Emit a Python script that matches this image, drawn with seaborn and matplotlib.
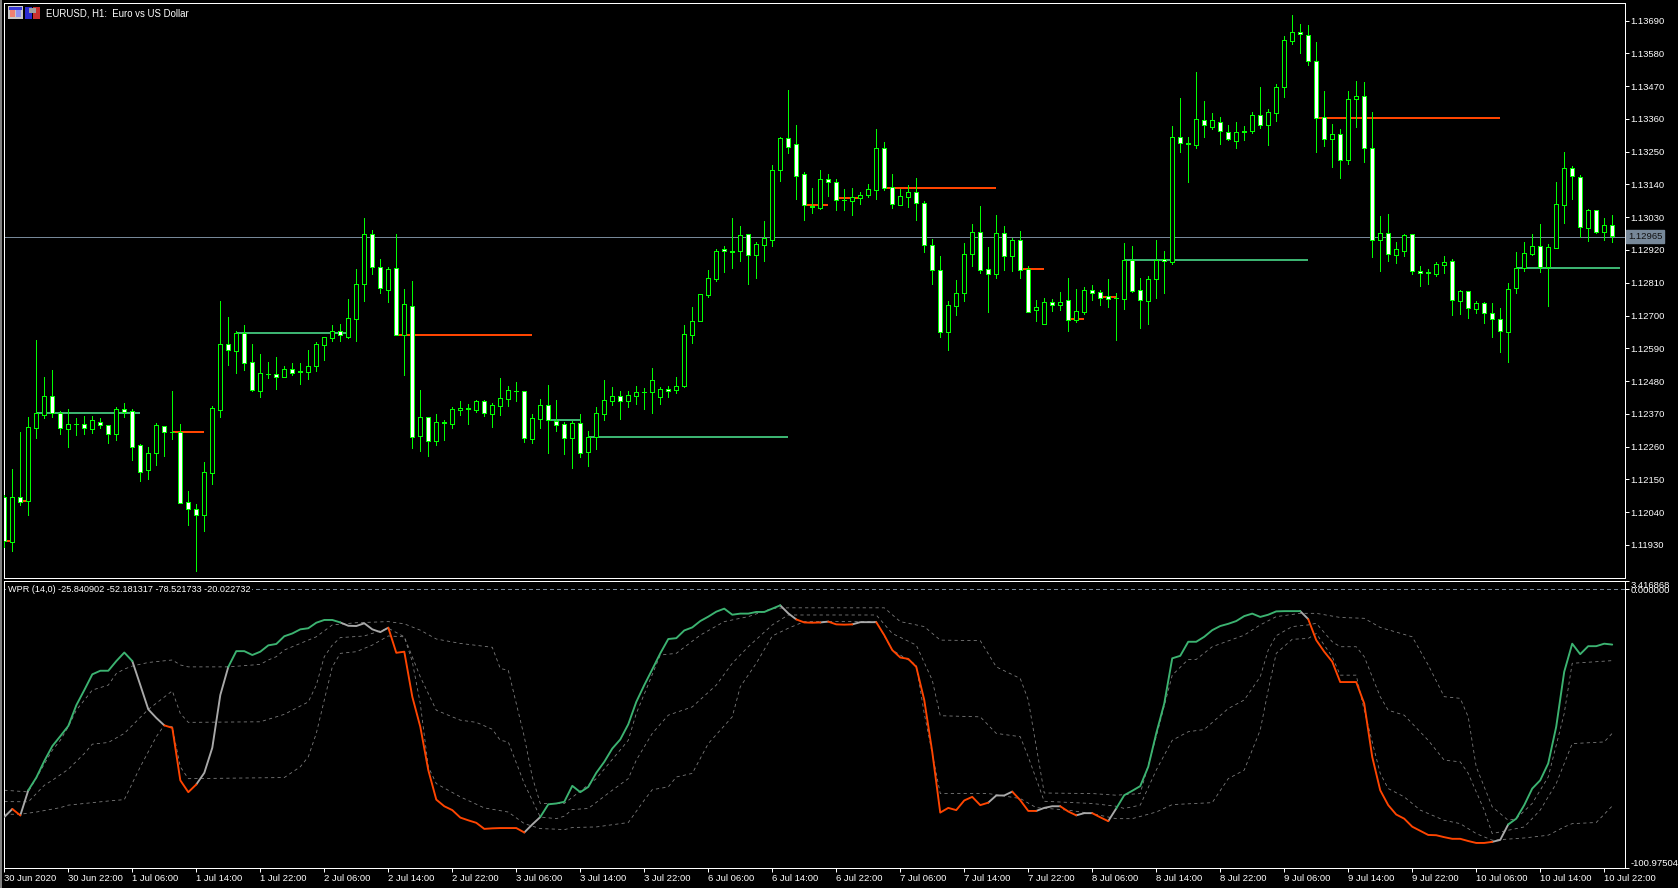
import numpy as np
import pandas as pd
import matplotlib
matplotlib.use("Agg")
import matplotlib.pyplot as plt
from matplotlib.patches import Rectangle
import seaborn as sns

# EURUSD H1 candles in points (1e-5)
open_pts = [
    112090, 111941, 112090, 112079, 112324, 112367, 112429, 112372, 112320, 112336,
    112337, 112320, 112344, 112334, 112304, 112385, 112379, 112265, 112180, 112237,
    112328, 112310, 112310, 112073, 112050, 112032, 112173, 112384, 112604, 112582,
    112641, 112543, 112448, 112505, 112505, 112495, 112520, 112513, 112512, 112529,
    112602, 112626, 112647, 112629, 112690, 112805, 112973, 112864, 112787, 112859,
    112635, 112733, 112294, 112361, 112280, 112344, 112337, 112382, 112388, 112384,
    112414, 112371, 112398, 112421, 112448, 112445, 112287, 112354, 112398, 112347,
    112335, 112290, 112338, 112243, 112291, 112370, 112414, 112429, 112414, 112431,
    112443, 112444, 112427, 112455, 112451, 112464, 112636, 112680, 112770, 112824,
    112923, 112915, 112915, 112973, 112902, 112938, 112955, 113190, 113295, 113275,
    113174, 113068, 113062, 113158, 113147, 113089, 113083, 113096, 113103, 113123,
    113262, 113131, 113072, 113099, 113114, 113077, 112936, 112852, 112644, 112733,
    112777, 112905, 112980, 112855, 112841, 112976, 112901, 112953, 112855, 112717,
    112673, 112745, 112737, 112751, 112686, 112713, 112785, 112778, 112764, 112760,
    112756, 112885, 112787, 112750, 112824, 112891, 112878, 113298, 113278, 113273,
    113357, 113334, 113351, 113315, 113287, 113315, 113321, 113372, 113338, 113381,
    113466, 113620, 113650, 113640, 113556, 113365, 113291, 113308, 113223, 113428,
    113436, 113261, 112952, 112976, 112902, 112918, 112972, 112851, 112845, 112840,
    112868, 112882, 112750, 112781, 112723, 112741, 112710, 112690, 112646, 112791,
    112858, 112906, 112935, 112862, 112928, 113072, 113194, 113164, 112995, 113053,
    112979, 113003,
]
high_pts = [
    112098, 112184, 112308, 112360, 112618, 112493, 112517, 112380, 112385, 112356,
    112363, 112363, 112355, 112334, 112393, 112407, 112385, 112269, 112258, 112340,
    112328, 112446, 112335, 112111, 112068, 112207, 112395, 112749, 112694, 112648,
    112669, 112604, 112571, 112543, 112561, 112531, 112540, 112540, 112583, 112610,
    112627, 112669, 112672, 112756, 112856, 113027, 112987, 112889, 112864, 112973,
    112788, 112816, 112450, 112361, 112369, 112350, 112392, 112413, 112402, 112417,
    112417, 112406, 112489, 112464, 112477, 112445, 112369, 112420, 112466, 112417,
    112342, 112347, 112369, 112312, 112393, 112483, 112460, 112447, 112447, 112463,
    112457, 112524, 112460, 112463, 112494, 112668, 112729, 112771, 112853, 112924,
    112933, 113027, 113001, 112973, 112947, 113018, 113206, 113300, 113457, 113340,
    113181, 113128, 113189, 113175, 113159, 113125, 113128, 113114, 113142, 113325,
    113283, 113175, 113124, 113137, 113162, 113085, 112957, 112900, 112749, 112820,
    112944, 113008, 113068, 112930, 113038, 113001, 112961, 112984, 112867, 112752,
    112759, 112756, 112779, 112826, 112789, 112796, 112803, 112786, 112823, 112775,
    112943, 112935, 112825, 112834, 112953, 112916, 113336, 113430, 113298, 113517,
    113420, 113380, 113366, 113338, 113349, 113336, 113383, 113467, 113393, 113477,
    113638, 113709, 113678, 113675, 113618, 113454, 113342, 113326, 113454, 113487,
    113484, 113383, 113034, 113041, 112947, 112973, 112972, 112865, 112855, 112879,
    112900, 112890, 112785, 112781, 112749, 112745, 112742, 112725, 112808, 112912,
    112947, 112973, 113006, 112939, 113148, 113249, 113202, 113172, 113057, 113054,
    113027, 113037,
]
low_pts = [
    111924, 111908, 112064, 112031, 112288, 112356, 112361, 112303, 112259, 112298,
    112303, 112306, 112323, 112272, 112282, 112360, 112215, 112145, 112152, 112199,
    112229, 112286, 112072, 111997, 111843, 111977, 112135, 112360, 112534, 112507,
    112517, 112447, 112427, 112491, 112454, 112495, 112501, 112470, 112487, 112514,
    112551, 112615, 112615, 112625, 112615, 112749, 112840, 112777, 112747, 112635,
    112501, 112257, 112246, 112230, 112266, 112282, 112323, 112366, 112336, 112376,
    112363, 112326, 112366, 112397, 112413, 112276, 112272, 112323, 112239, 112314,
    112235, 112188, 112225, 112195, 112252, 112349, 112400, 112353, 112393, 112403,
    112386, 112373, 112403, 112426, 112440, 112460, 112608, 112680, 112763, 112816,
    112846, 112860, 112883, 112806, 112826, 112883, 112934, 113150, 113246, 113092,
    113021, 113045, 113058, 113102, 113055, 113055, 113038, 113075, 113098, 113092,
    113123, 113061, 113072, 113065, 113021, 112914, 112806, 112628, 112585, 112702,
    112749, 112867, 112843, 112712, 112826, 112853, 112850, 112826, 112713, 112682,
    112673, 112716, 112719, 112648, 112679, 112705, 112752, 112736, 112729, 112618,
    112722, 112780, 112659, 112671, 112759, 112775, 112872, 113249, 113149, 113263,
    113299, 113327, 113276, 113289, 113263, 113289, 113313, 113330, 113272, 113353,
    113433, 113611, 113581, 113541, 113249, 113269, 113198, 113161, 113208, 113333,
    113215, 112896, 112849, 112883, 112876, 112900, 112839, 112799, 112806, 112832,
    112843, 112702, 112705, 112691, 112708, 112675, 112628, 112577, 112544, 112775,
    112850, 112903, 112846, 112732, 112928, 113010, 113090, 112963, 112950, 112978,
    112953, 112947,
]
close_pts = [
    111944, 112090, 112075, 112325, 112372, 112429, 112372, 112324, 112335, 112335,
    112322, 112348, 112331, 112304, 112385, 112376, 112260, 112176, 112238, 112332,
    112310, 112309, 112072, 112049, 112032, 112174, 112389, 112604, 112583, 112641,
    112539, 112451, 112506, 112504, 112495, 112520, 112508, 112511, 112530, 112604,
    112627, 112647, 112634, 112691, 112805, 112973, 112864, 112792, 112855, 112635,
    112738, 112291, 112361, 112280, 112342, 112338, 112385, 112389, 112386, 112412,
    112372, 112398, 112422, 112449, 112446, 112288, 112357, 112399, 112348, 112332,
    112290, 112338, 112239, 112291, 112372, 112415, 112429, 112414, 112432, 112442,
    112442, 112482, 112455, 112448, 112462, 112637, 112680, 112771, 112825, 112916,
    112916, 112913, 112970, 112902, 112939, 112959, 113188, 113295, 113265, 113170,
    113070, 113064, 113158, 113147, 113089, 113087, 113097, 113104, 113124, 113262,
    113127, 113074, 113100, 113114, 113079, 112936, 112852, 112644, 112735, 112775,
    112906, 112980, 112854, 112839, 112976, 112901, 112953, 112854, 112713, 112728,
    112745, 112737, 112745, 112686, 112714, 112785, 112777, 112760, 112757, 112758,
    112885, 112782, 112751, 112821, 112886, 112882, 113298, 113278, 113277, 113358,
    113338, 113355, 113321, 113291, 113315, 113321, 113372, 113338, 113382, 113466,
    113624, 113650, 113644, 113556, 113362, 113291, 113308, 113221, 113426, 113436,
    113261, 112952, 112976, 112905, 112922, 112969, 112851, 112844, 112844, 112872,
    112878, 112751, 112781, 112724, 112741, 112710, 112690, 112647, 112788, 112858,
    112909, 112935, 112862, 112929, 113073, 113194, 113167, 112996, 113053, 112982,
    113003, 112966,
]

# coloured level lines on the price window
level_start = [0, 2, 4, 21, 29, 49, 68, 73, 100, 104, 110, 127, 133, 137, 140, 164, 189]
level_end = [1, 3, 17, 25, 43, 66, 72, 98, 103, 107, 124, 130, 135, 139, 163, 187, 202]
level_pts = [111944, 112079, 112374, 112310, 112643, 112636, 112350, 112292, 113071,
             113093, 113128, 112857, 112689, 112762, 112886, 113364, 112859]
level_kind = ["dn", "dn", "up", "dn", "up", "dn", "up", "up", "dn",
              "dn", "dn", "dn", "dn", "dn", "up", "dn", "up"]

# WPR(14) main line, one value per bar
wpr_values = [
    -82.5, -79.6, -81.9, -72.8, -68.2, -62.2, -56.8, -53.2, -49.5, -42.0,
    -36.5, -30.8, -29.5, -29.5, -26.0, -22.9, -26.0, -34.7, -43.5, -46.6,
    -49.3, -50.2, -69.2, -73.5, -70.7, -66.5, -57.4, -38.3, -28.1, -22.4,
    -22.4, -23.8, -22.6, -20.3, -19.8, -17.0, -16.0, -14.5, -14.1, -12.1,
    -11.1, -11.1, -12.0, -13.2, -13.3, -12.3, -14.5, -15.5, -13.9, -23.0,
    -22.6, -38.9, -49.8, -65.5, -76.2, -78.6, -80.0, -82.7, -83.7, -84.6,
    -86.8, -86.6, -86.5, -86.5, -86.5, -88.1, -85.2, -82.5, -77.9, -77.6,
    -77.0, -71.2, -73.5, -71.6, -66.5, -62.5, -57.7, -54.4, -48.9, -40.8,
    -34.7, -29.0, -23.2, -18.0, -17.7, -14.9, -13.8, -11.5, -9.9, -8.1,
    -7.0, -9.2, -8.8, -8.8, -8.2, -8.2, -7.0, -5.8, -8.7, -10.9,
    -12.0, -12.1, -12.0, -11.7, -12.7, -12.8, -12.7, -11.9, -11.9, -11.9,
    -16.6, -22.0, -24.7, -25.2, -28.1, -40.1, -58.9, -80.9, -79.2, -80.0,
    -76.5, -75.2, -78.2, -77.3, -74.7, -74.7, -73.3, -76.4, -80.3, -80.3,
    -79.2, -78.6, -78.6, -80.5, -81.9, -81.1, -81.1, -82.6, -84.0, -79.4,
    -74.6, -73.0, -71.3, -64.3, -52.2, -41.4, -25.0, -24.1, -19.0, -19.0,
    -17.2, -14.8, -13.3, -12.5, -11.5, -9.7, -8.8, -10.0, -9.2, -8.0,
    -7.9, -7.9, -7.9, -10.8, -18.4, -22.6, -26.2, -33.6, -33.6, -33.6,
    -41.4, -60.7, -72.8, -78.2, -81.6, -83.1, -86.0, -87.5, -89.0, -89.1,
    -89.8, -90.4, -90.4, -91.2, -91.9, -91.9, -91.5, -90.8, -85.2, -83.1,
    -78.2, -72.2, -69.2, -63.1, -49.8, -29.9, -19.7, -23.5, -20.6, -20.6,
    -19.7, -20.02,
]
run_start = [0, 1, 2, 3, 16, 20, 24, 28, 42, 48, 65, 67, 97, 99, 102, 103, 106, 109,
             123, 126, 129, 132, 134, 136, 138, 139, 162, 163, 186, 188]
run_end = [1, 2, 3, 16, 20, 24, 28, 42, 48, 65, 67, 97, 99, 102, 103, 106, 109, 123,
           126, 129, 132, 134, 136, 138, 139, 162, 163, 186, 188, 201]
run_state = ["flat", "dn", "flat", "up", "flat", "dn", "flat", "up", "flat", "dn", "flat", "up",
             "flat", "dn", "flat", "dn", "flat", "dn", "flat", "dn", "flat", "dn", "flat", "dn",
             "flat", "up", "flat", "dn", "flat", "up"]

# dashed signal lines, read at their corners
dash_a_bars = [0, 3, 6, 7, 8, 9, 11, 13, 14, 15, 16, 18, 21, 22, 23, 28, 32, 33, 34, 35, 37, 39,
               41, 44, 48, 50, 52, 54, 57, 61, 62, 63, 64, 65, 66, 67, 70, 74, 78, 79, 82, 84,
               87, 90, 93, 96, 98, 110, 112, 115, 117, 122, 124, 127, 128, 130, 136, 139, 142,
               144, 146, 148, 149, 151, 155, 157, 159, 162, 164, 167, 170, 172, 176, 178, 180,
               182, 183, 184, 186, 188, 189, 191, 193, 195, 196, 201]
dash_a_vals = [-72.8, -73.4, -58.3, -54.7, -49.8, -43.8, -36.5, -34.7, -30.5, -28.9, -27.8, -26.5,
               -25.6, -27.4, -28.1, -28.1, -27.2, -25.6, -24.4, -22.0, -19.6, -17.2, -12.9, -12.1,
               -11.7, -12.5, -14.8, -18.0, -19.6, -21.0, -28.7, -29.3, -41.4, -53.4, -68.0, -77.6,
               -77.6, -68.6, -54.7, -45.0, -23.8, -23.2, -16.6, -11.7, -9.9, -6.9, -6.7, -6.7,
               -11.7, -13.5, -18.4, -18.6, -28.1, -32.3, -40.1, -73.8, -74.0, -74.6, -74.0, -53.4,
               -31.1, -25.4, -25.4, -20.8, -16.6, -12.9, -9.9, -8.7, -8.7, -10.2, -10.5, -13.8,
               -17.2, -27.4, -38.9, -39.5, -46.2, -64.3, -78.8, -83.7, -83.1, -77.6, -68.0, -45.0,
               -26.8, -25.84]
dash_b_bars = [0, 3, 5, 6, 8, 10, 11, 13, 15, 18, 21, 22, 23, 32, 35, 38, 39, 40, 41, 42, 45, 48,
               50, 52, 54, 57, 59, 61, 62, 63, 65, 67, 69, 70, 71, 73, 76, 78, 79, 81, 83, 86, 89,
               91, 93, 96, 98, 109, 111, 114, 116, 117, 122, 124, 127, 128, 130, 136, 139, 140,
               142, 144, 146, 148, 150, 153, 155, 157, 158, 159, 161, 163, 164, 166, 167, 169,
               170, 172, 173, 175, 178, 180, 182, 183, 185, 186, 188, 190, 192, 194, 196, 200, 201]
dash_b_vals = [-76.9, -77.0, -71.0, -69.2, -65.2, -59.5, -56.1, -55.5, -52.2, -43.5, -36.8, -45.0,
               -48.2, -48.0, -45.3, -40.8, -34.7, -24.4, -20.2, -17.5, -16.9, -14.1, -17.2, -31.7,
               -43.8, -47.4, -48.2, -50.7, -54.7, -55.3, -70.4, -82.5, -83.1, -82.2, -79.8, -79.4,
               -72.8, -68.6, -61.9, -52.2, -45.6, -42.6, -34.7, -26.8, -20.8, -12.9, -9.3, -9.3,
               -16.0, -20.2, -32.9, -45.8, -46.2, -52.2, -53.4, -60.7, -76.8, -77.6, -78.6, -79.4,
               -78.2, -65.5, -54.7, -51.6, -50.8, -43.2, -40.1, -31.7, -22.0, -16.8, -13.5, -12.9,
               -12.3, -19.0, -20.8, -20.8, -24.4, -38.9, -43.8, -45.6, -54.7, -61.9, -62.5, -66.7,
               -80.0, -88.5, -87.3, -86.1, -80.0, -70.4, -55.9, -55.3, -52.18]
dash_c_bars = [0, 2, 4, 7, 8, 13, 15, 17, 19, 20, 21, 22, 23, 35, 37, 38, 39, 40, 41, 42, 44, 46,
               48, 50, 51, 52, 53, 54, 57, 60, 63, 65, 67, 69, 70, 71, 74, 78, 80, 81, 83, 84, 86,
               88, 91, 92, 94, 96, 98, 100, 109, 111, 114, 115, 117, 123, 127, 129, 133, 136, 139,
               141, 144, 146, 151, 153, 155, 157, 158, 159, 161, 163, 164, 166, 167, 169, 170,
               172, 173, 175, 177, 180, 182, 184, 186, 190, 193, 195, 196, 199, 201]
dash_c_vals = [-81.5, -81.5, -80.7, -79.1, -78.2, -76.7, -76.2, -64.3, -53.4, -49.2, -49.8, -64.3,
               -68.6, -68.2, -64.3, -60.7, -52.2, -40.1, -28.1, -23.2, -22.6, -20.2, -16.9, -17.2,
               -26.2, -41.4, -64.3, -70.4, -75.2, -79.2, -80.7, -84.9, -86.7, -86.9, -87.1, -86.3,
               -86.1, -84.5, -76.4, -72.6, -71.6, -68.0, -66.7, -55.9, -46.2, -35.3, -26.8, -16.9,
               -14.1, -11.7, -11.7, -22.0, -27.4, -45.0, -74.0, -74.0, -75.8, -79.1, -80.0, -81.3,
               -83.1, -83.1, -80.7, -78.0, -77.3, -68.6, -65.5, -51.0, -36.5, -23.2, -18.1, -17.8,
               -16.0, -24.4, -31.1, -31.1, -43.8, -66.7, -72.2, -75.2, -80.0, -83.7, -84.9, -88.5,
               -90.9, -90.1, -89.1, -86.1, -84.9, -84.5, -78.52]

price_ticks = [1.13690, 1.13580, 1.13470, 1.13360, 1.13250, 1.13140, 1.13030, 1.12920, 1.12810,
               1.12700, 1.12590, 1.12480, 1.12370, 1.12260, 1.12150, 1.12040, 1.11930]
last_price = 1.12965
time_labels = ["30 Jun 2020", "30 Jun 22:00", "1 Jul 06:00", "1 Jul 14:00", "1 Jul 22:00",
               "2 Jul 06:00", "2 Jul 14:00", "2 Jul 22:00", "3 Jul 06:00", "3 Jul 14:00",
               "3 Jul 22:00", "6 Jul 06:00", "6 Jul 14:00", "6 Jul 22:00", "7 Jul 06:00",
               "7 Jul 14:00", "7 Jul 22:00", "8 Jul 06:00", "8 Jul 14:00", "8 Jul 22:00",
               "9 Jul 06:00", "9 Jul 14:00", "9 Jul 22:00", "10 Jul 06:00", "10 Jul 14:00",
               "10 Jul 22:00"]
wpr_top = 3.016868
wpr_bottom = -100.975049

W, H = 1678, 888
PX = 0.72  # one pixel in points at dpi 100
GREEN = "#3CB371"
ORANGE = "#FF4500"
GRAY = "#A9A9A9"
SLATE = "#778899"
LIME = "#00FF00"

sns.set_theme(style="dark", rc={
    "figure.facecolor": "black", "axes.facecolor": "black", "savefig.facecolor": "black",
    "axes.edgecolor": "white", "axes.linewidth": PX, "text.color": "white",
    "xtick.color": "white", "ytick.color": "white", "xtick.bottom": True, "ytick.right": True,
})
plt.rcParams["font.family"] = ["Liberation Sans", "DejaVu Sans"]
FS = 6.8


def px_rect(left, top, right, bottom):
    return [left / W, 1 - bottom / H, (right - left) / W, (bottom - top) / H]


fig = plt.figure(figsize=(W / 100, H / 100), dpi=100)
ax = fig.add_axes(px_rect(4, 3, 1625, 578))
ax2 = fig.add_axes(px_rect(4, 581, 1625, 868))

bars = np.arange(len(open_pts))
o = np.array(open_pts) / 1e5
h = np.array(high_pts) / 1e5
l = np.array(low_pts) / 1e5
c = np.array(close_pts) / 1e5

# levels go under the candles
rows = []
for n, (s, e, p, k) in enumerate(zip(level_start, level_end, level_pts, level_kind)):
    rows += [{"bar": s, "price": p / 1e5, "kind": k, "run": n},
             {"bar": e, "price": p / 1e5, "kind": k, "run": n}]
levels = pd.DataFrame(rows)
sns.lineplot(data=levels, x="bar", y="price", hue="kind", units="run", estimator=None,
             palette={"up": GREEN, "dn": ORANGE}, linewidth=2 * PX, legend=False, ax=ax,
             antialiased=False, zorder=2, solid_capstyle="butt")
ax.axhline(last_price, color=SLATE, lw=PX, zorder=1.5, antialiased=False)

ax.vlines(bars, l, h, color=LIME, lw=PX, zorder=3, antialiased=False)
ax.bar(bars, np.abs(c - o), width=0.5, bottom=np.minimum(o, c),
       color=["white" if cc < oo else "black" for oo, cc in zip(o, c)],
       edgecolor=LIME, linewidth=PX, zorder=4, antialiased=False)

ax.set_xlim(-0.04, 202.6)
ax.set_ylim(1.11819, 1.13749)
ax.set_xlabel("")
ax.set_ylabel("")
ax.set_xticks([])
ax.yaxis.tick_right()
ax.set_yticks(price_ticks)
ax.set_yticklabels([f"{t:.5f}" for t in price_ticks], fontsize=FS)
ax.tick_params(axis="y", length=3, width=PX, pad=0.8)
ax.text(1628 / W, 1 - 236.5 / H, f"{last_price:.5f}", transform=fig.transFigure, fontsize=FS,
        color="#101010", va="center", ha="left", zorder=9,
        bbox=dict(facecolor=SLATE, edgecolor=SLATE, pad=1.4))
fig.text(46 / W, 1 - 13 / H, "EURUSD, H1:  Euro vs US Dollar", fontsize=6.9, va="center", ha="left")

# WPR window
ax2.axhline(0, color=SLATE, lw=PX, linestyle=(0, (4, 3)), zorder=1, antialiased=False)
for xs, ys in [(dash_a_bars, dash_a_vals), (dash_b_bars, dash_b_vals), (dash_c_bars, dash_c_vals)]:
    sns.lineplot(x=xs, y=ys, color="#808080", linewidth=0.8 * PX, linestyle=(0, (4, 4)), ax=ax2,
                 estimator=None, sort=False, zorder=2)

rows = []
for n, (s, e, k) in enumerate(zip(run_start, run_end, run_state)):
    for b in range(s, e + 1):
        rows.append({"bar": b, "wpr": wpr_values[b], "state": k, "run": n})
wpr = pd.DataFrame(rows)
sns.lineplot(data=wpr, x="bar", y="wpr", hue="state", units="run", estimator=None,
             palette={"up": GREEN, "dn": ORANGE, "flat": GRAY}, linewidth=1.9 * PX, legend=False,
             ax=ax2, zorder=3)

ax2.set_xlim(-0.04, 202.6)
ax2.set_ylim(wpr_bottom, wpr_top)
ax2.set_xlabel("")
ax2.set_ylabel("")
ax2.set_xticks(bars[::8][:len(time_labels)])
ax2.set_xticklabels(time_labels, fontsize=FS, ha="left")
ax2.tick_params(axis="x", length=3, width=PX, pad=1.5)
ax2.yaxis.tick_right()
ax2.set_yticks([wpr_top, 0, wpr_bottom])
tl = ax2.set_yticklabels(["3.416868", "0.000000", "-100.975049"], fontsize=FS)
tl[0].set_va("top")
tl[2].set_va("bottom")
ax2.tick_params(axis="y", length=3, width=PX, pad=0.8)
ax2.text(8 / W, 1 - 589.5 / H, "WPR (14,0) -25.840902 -52.181317 -78.521733 -20.022732",
         transform=fig.transFigure, fontsize=6.6, va="center", ha="left", zorder=9,
         bbox=dict(facecolor="black", edgecolor="none", pad=1.2))

# window frame and the two little title icons
def px_box(left, top, right, bottom, color):
    fig.add_artist(Rectangle((left / W, 1 - bottom / H), (right - left) / W, (bottom - top) / H,
                             transform=fig.transFigure, facecolor=color, edgecolor="none"))


px_box(0, 0, 2, H, "#808080")
px_box(8, 6, 23, 19, "#C8C8C8")
px_box(9, 7, 22, 10, "#3A3AD8")
px_box(10, 10, 15, 17, "#F08070")
px_box(16, 10, 21, 17, "#9090F0")
px_box(25, 7, 32, 19, "#2A2AD0")
px_box(33, 7, 40, 19, "#C83030")
px_box(29, 8, 36, 13, "#A0A0A0")

fig.savefig("out.png", dpi=100)
